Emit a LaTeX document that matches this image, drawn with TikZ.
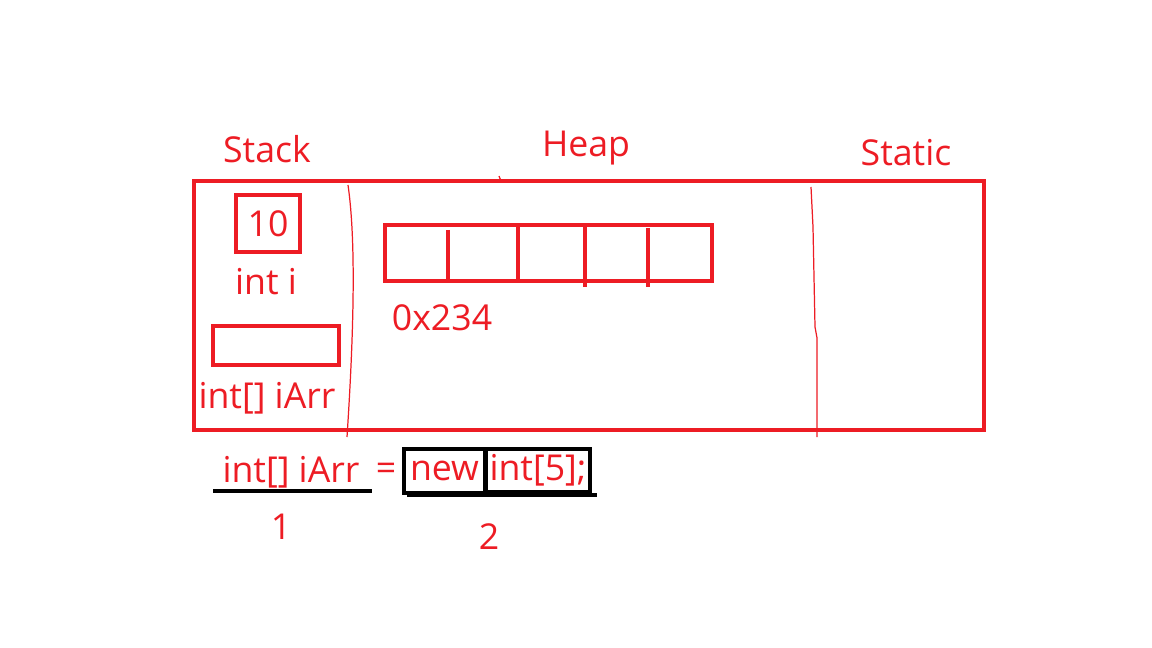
\documentclass[tikz,border=0pt]{standalone}
\usepackage{fontspec}
\setmainfont{Open Sans}
\usepackage{tikz}
\definecolor{paintred}{RGB}{237,28,36}
\tikzset{
every node/.style={text=paintred, inner sep=0pt, font=\fontsize{20.3}{24}\selectfont},
redbox/.style={draw=paintred, line width=2.3pt},
blackbox/.style={draw=black, line width=2.3pt},
divider/.style={draw=paintred, line width=0.7pt}
}
\begin{document}
\begin{tikzpicture}[x=0.02cm,y=-0.02cm]
\useasboundingbox (0,0) rectangle (1152,648);

\draw[redbox] (194,181) rectangle (984,430);
\draw[divider] (348,185) .. controls (356,240) and (354,330) .. (347,437);
\draw[divider] (811,187) -- (813,227) -- (815,327) -- (817,338) -- (817,437);
\draw[divider] (499,176) -- (501,181);

\node (stack) at (267,149) {Stack};
\node (heap) at (586,148) {Heap};
\node (static) at (906,153) {Static};

\node[redbox, minimum width=1.28cm, minimum height=1.14cm] (ten) at (268,223.5) {10};
\node (inti) at (266,282) {int i};
\node[redbox, minimum width=2.52cm, minimum height=0.78cm] (ref) at (276,345.5) {};
\node (iarr) at (267,398) {int[] iArr};

\node[redbox, minimum width=6.54cm, minimum height=1.12cm] (arr) at (548.5,253) {};
\draw[redbox] (448,230) -- (448,281);
\draw[redbox] (518,225) -- (518,281);
\draw[redbox] (585,225) -- (585,287);
\draw[redbox] (648,228) -- (648,287);
\node (addr) at (442,318) {0x234};

\node (decl) at (291,472) {int[] iArr};
\coordinate (u1) at (213,491);
\coordinate (u2) at (372,491);
\draw[blackbox] (u1) -- (u2);
\node (eq) at (386,472) {=};
\node[blackbox, minimum width=1.62cm, minimum height=0.88cm] (new) at (444.5,471) {new};
\node[blackbox, minimum width=2.08cm, minimum height=0.86cm] (alloc) at (538,470.5) {int[5];};
\coordinate (u3) at (407,495);
\coordinate (u4) at (597,495);
\draw[blackbox] (u3) -- (u4);
\node (one) at (281,527) {1};
\node (two) at (489,537) {2};
\end{tikzpicture}
\end{document}
